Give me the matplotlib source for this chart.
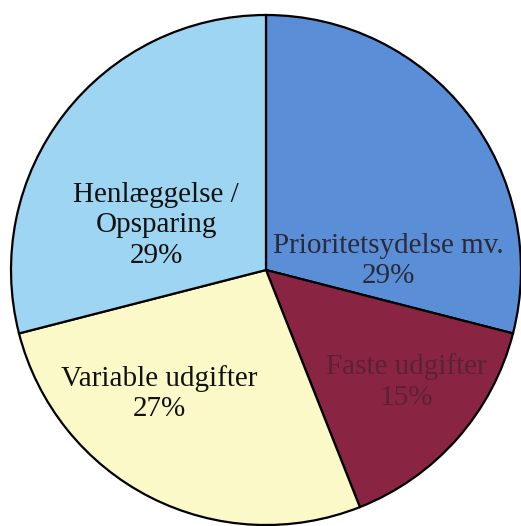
import matplotlib
matplotlib.use("Agg")
import matplotlib.pyplot as plt

categories = ["Prioritetsydelse mv.", "Faste udgifter", "Variable udgifter", "Henlæggelse /\nOpsparing"]
values = [29, 15, 27, 29]
colors = ["#5a8ed6", "#8a2443", "#fcf9c9", "#9dd5f3"]
text_colors = ["#2a2a3a", "#5a2233", "#111111", "#111111"]
label_pos = [(0.48, 0.035), (0.55, -0.44), (-0.42, -0.485), (-0.43, 0.175)]

W, H = 521, 526
fig = plt.figure(figsize=(W / 100, H / 100), dpi=100)
cx, cy, r = 266, 270, 255
ax = fig.add_axes([(cx - r) / W, (H - cy - r) / H, 2 * r / W, 2 * r / H])
ax.pie(values, colors=colors, startangle=90, counterclock=False,
       wedgeprops=dict(edgecolor="black", linewidth=1.6), radius=1.0)
ax.set_xlim(-1, 1)
ax.set_ylim(-1, 1)
ax.set_aspect("auto")
ax.axis("off")

for cat, v, (x, y), tc in zip(categories, values, label_pos, text_colors):
    ax.text(x, y, f"{cat}\n{v}%", ha="center", va="center", fontsize=21,
            family="Liberation Serif", color=tc, linespacing=1.22)

fig.savefig("out.png", dpi=100, facecolor="white")
